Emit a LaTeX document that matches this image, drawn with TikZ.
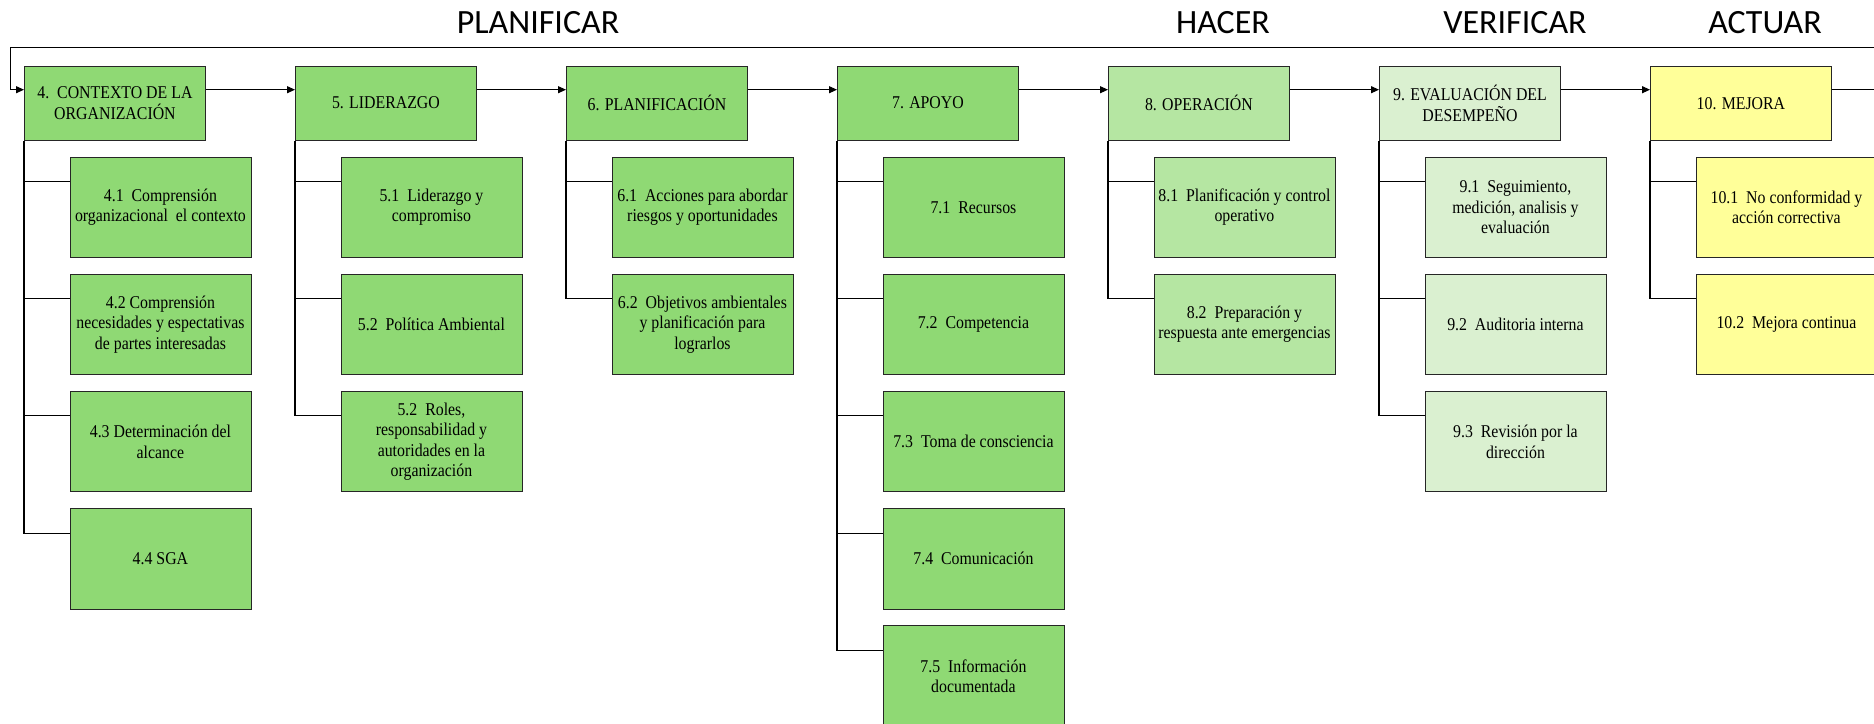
\documentclass[tikz,border=0pt]{standalone}
\usepackage{fontspec}
\setmainfont{Liberation Serif}[FakeStretch=0.88]
\newfontfamily\titulofont{Carlito}
\usetikzlibrary{arrows.meta}
\definecolor{verdeP}{RGB}{143,217,116}
\definecolor{verdeH}{RGB}{181,230,162}
\definecolor{verdeV}{RGB}{218,240,208}
\definecolor{amarilloA}{RGB}{255,255,153}
\tikzset{
	caja/.style={draw=black!85, line width=0.9pt, anchor=north west, align=center,
		minimum width=181pt, minimum height=74pt, inner sep=2pt,
		font=\fontsize{18}{20.5}\selectfont},
	subcaja/.style={caja, minimum height=100.5pt},
	rama/.style={line width=1.1pt},
	flecha/.style={line width=1.1pt, -{Triangle[length=8pt,width=7pt]}},
	titulo/.style={anchor=base, font=\titulofont\fontsize{34}{40}\selectfont}
}

\begin{document}
\begin{tikzpicture}[x=1pt, y=-1pt]
			%%%%% START %%%%%
			\useasboundingbox (0,0) rectangle (1874,723);
			\clip (0,0) rectangle (1874,723);
			
			\node[titulo] (tPlan) at (538,33.5) {PLANIFICAR};
			\node[titulo] (tHacer) at (1223,33.5) {HACER};
			\node[titulo] (tVerif) at (1515,33.5) {VERIFICAR};
			\node[titulo] (tActuar) at (1765,33.5) {ACTUAR};
			
			\node[caja, fill=verdeP] (c4) at (24,65.7) {4.~~CONTEXTO DE LA\\ORGANIZACIÓN};
			\node[caja, fill=verdeP] (c5) at (295,65.7) {5. LIDERAZGO};
			\node[caja, fill=verdeP] (c6) at (566,65.7) {6. PLANIFICACIÓN};
			\node[caja, fill=verdeP] (c7) at (837,65.7) {7. APOYO};
			\node[caja, fill=verdeH] (c8) at (1108,65.7) {8. OPERACIÓN};
			\node[caja, fill=verdeV] (c9) at (1379,65.7) {9. EVALUACIÓN DEL\\DESEMPEÑO};
			\node[caja, fill=amarilloA] (c10) at (1650,65.7) {10. MEJORA};
			
			\node[subcaja, fill=verdeP] (s41) at (69.5,156.5) {4.1~~Comprensión\\organizacional~~el contexto};
			\node[subcaja, fill=verdeP] (s42) at (69.5,273.7) {4.2 Comprensión\\necesidades y espectativas\\de partes interesadas};
			\node[subcaja, fill=verdeP] (s43) at (69.5,390.9) {4.3 Determinación del\\alcance};
			\node[subcaja, fill=verdeP] (s44) at (69.5,508.1) {4.4 SGA};
			
			\node[subcaja, fill=verdeP] (s51) at (340.5,156.5) {5.1~~Liderazgo y\\compromiso};
			\node[subcaja, fill=verdeP] (s52) at (340.5,273.7) {5.2~~Política Ambiental};
			\node[subcaja, fill=verdeP] (s53) at (340.5,390.9) {5.2~~Roles,\\responsabilidad y\\autoridades en la\\organización};
			
			\node[subcaja, fill=verdeP] (s61) at (611.5,156.5) {6.1~~Acciones para abordar\\riesgos y oportunidades};
			\node[subcaja, fill=verdeP] (s62) at (611.5,273.7) {6.2~~Objetivos ambientales\\y planificación para\\lograrlos};
			
			\node[subcaja, fill=verdeP] (s71) at (882.5,156.5) {7.1~~Recursos};
			\node[subcaja, fill=verdeP] (s72) at (882.5,273.7) {7.2~~Competencia};
			\node[subcaja, fill=verdeP] (s73) at (882.5,390.9) {7.3~~Toma de consciencia};
			\node[subcaja, fill=verdeP] (s74) at (882.5,508.1) {7.4~~Comunicación};
			\node[subcaja, fill=verdeP] (s75) at (882.5,625.3) {7.5~~Información\\documentada};
			
			\node[subcaja, fill=verdeH] (s81) at (1153.5,156.5) {8.1~~Planificación y control\\operativo};
			\node[subcaja, fill=verdeH] (s82) at (1153.5,273.7) {8.2~~Preparación y\\respuesta ante emergencias};
			
			\node[subcaja, fill=verdeV] (s91) at (1424.5,156.5) {9.1~~Seguimiento,\\medición, analisis y\\evaluación};
			\node[subcaja, fill=verdeV] (s92) at (1424.5,273.7) {9.2~~Auditoria interna};
			\node[subcaja, fill=verdeV] (s93) at (1424.5,390.9) {9.3~~Revisión por la\\dirección};
			
			\node[subcaja, fill=amarilloA] (s101) at (1695.5,156.5) {10.1~~No conformidad y\\acción correctiva};
			\node[subcaja, fill=amarilloA] (s102) at (1695.5,273.7) {10.2~~Mejora continua};
			
			% ramas
			\draw[rama] (c4.south west) |- ([yshift=-25pt]s41.north west);
			\draw[rama] (c4.south west) |- ([yshift=-25pt]s42.north west);
			\draw[rama] (c4.south west) |- ([yshift=-25pt]s43.north west);
			\draw[rama] (c4.south west) |- ([yshift=-25pt]s44.north west);
			\draw[rama] (c5.south west) |- ([yshift=-25pt]s51.north west);
			\draw[rama] (c5.south west) |- ([yshift=-25pt]s52.north west);
			\draw[rama] (c5.south west) |- ([yshift=-25pt]s53.north west);
			\draw[rama] (c6.south west) |- ([yshift=-25pt]s61.north west);
			\draw[rama] (c6.south west) |- ([yshift=-25pt]s62.north west);
			\draw[rama] (c7.south west) |- ([yshift=-25pt]s71.north west);
			\draw[rama] (c7.south west) |- ([yshift=-25pt]s72.north west);
			\draw[rama] (c7.south west) |- ([yshift=-25pt]s73.north west);
			\draw[rama] (c7.south west) |- ([yshift=-25pt]s74.north west);
			\draw[rama] (c7.south west) |- ([yshift=-25pt]s75.north west);
			\draw[rama] (c8.south west) |- ([yshift=-25pt]s81.north west);
			\draw[rama] (c8.south west) |- ([yshift=-25pt]s82.north west);
			\draw[rama] (c9.south west) |- ([yshift=-25pt]s91.north west);
			\draw[rama] (c9.south west) |- ([yshift=-25pt]s92.north west);
			\draw[rama] (c9.south west) |- ([yshift=-25pt]s93.north west);
			\draw[rama] (c10.south west) |- ([yshift=-25pt]s101.north west);
			\draw[rama] (c10.south west) |- ([yshift=-25pt]s102.north west);
			
			% flechas
			\draw[flecha] ([yshift=-24pt]c4.north east) -- ([yshift=-24pt]c5.north west);
			\draw[flecha] ([yshift=-24pt]c5.north east) -- ([yshift=-24pt]c6.north west);
			\draw[flecha] ([yshift=-24pt]c6.north east) -- ([yshift=-24pt]c7.north west);
			\draw[flecha] ([yshift=-24pt]c7.north east) -- ([yshift=-24pt]c8.north west);
			\draw[flecha] ([yshift=-24pt]c8.north east) -- ([yshift=-24pt]c9.north west);
			\draw[flecha] ([yshift=-24pt]c9.north east) -- ([yshift=-24pt]c10.north west);
			
			\coordinate (finDer) at (1900,47.8);
			\coordinate (retorno) at (10.2,47.8);
			\draw[flecha] ([yshift=-24pt]c10.north east) -| (finDer) -- (retorno) |- ([yshift=-24pt]c4.north west);
			
			%%%%% END %%%%%
\end{tikzpicture}
\end{document}
